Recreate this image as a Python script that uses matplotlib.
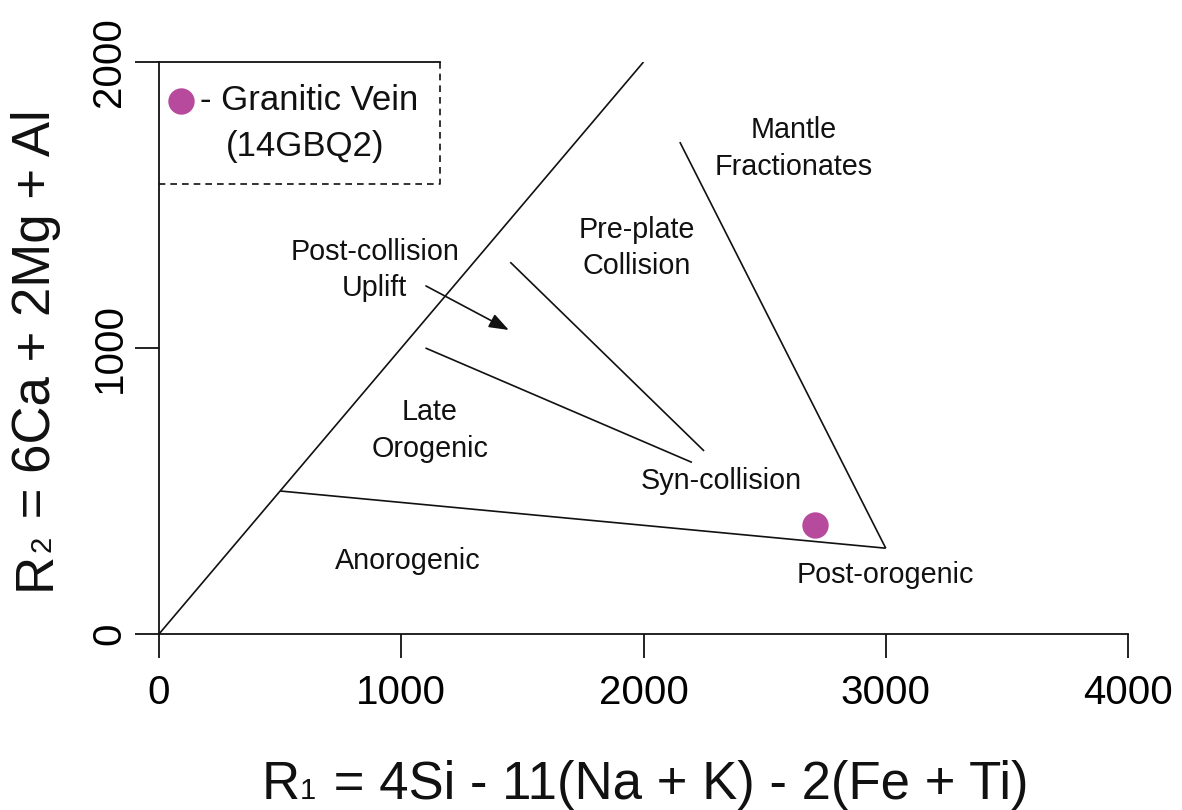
import matplotlib
matplotlib.use("Agg")
import matplotlib.pyplot as plt

plt.rcParams['font.family'] = ['Liberation Sans', 'DejaVu Sans']

# field boundaries of the R1-R2 diagram (x0, y0, x1, y1)
boundary_x0 = [0, 500, 3000, 1450, 1100]
boundary_y0 = [0, 500, 300, 1300, 1000]
boundary_x1 = [2000, 3000, 2150, 2250, 2200]
boundary_y1 = [2000, 300, 1720, 640, 600]

# field names
field_names = ["Mantle\nFractionates", "Pre-plate\nCollision", "Post-collision\nUplift",
               "Late\nOrogenic", "Syn-collision", "Anorogenic", "Post-orogenic"]
field_x = [2620, 1973, 891, 1118, 2319, 1028, 3000]
field_y = [1697, 1350, 1273, 712, 535, 255, 206]

# arrow for post-collision uplift
arrow_from = (1102, 1217)
arrow_to = (1444, 1063)

# sample
sample_r1 = [2707]
sample_r2 = [381]
sample_name = "Granitic Vein"
sample_id = "(14GBQ2)"

xticks = [0, 1000, 2000, 3000, 4000]
yticks = [0, 1000, 2000]

xlabel_parts = [("R", 38), ("1", 21), (" = 4Si - 11(Na + K) - 2(Fe + Ti)", 38)]
ylabel_parts = [("R", 38), ("2", 21), (" = 6Ca + 2Mg + Al", 38)]

color = '#B84A9E'
ink = '#111111'

W, H = 1182, 810
fig = plt.figure(figsize=(W / 100, H / 100), dpi=100)
ax = fig.add_axes([159 / W, 1 - 634 / H, (1128 - 159) / W, (634 - 62) / H])

for x0, y0, x1, y1 in zip(boundary_x0, boundary_y0, boundary_x1, boundary_y1):
    ax.plot([x0, x1], [y0, y1], color=ink, lw=1.2, solid_capstyle='butt')

for name, x, y in zip(field_names, field_x, field_y):
    ax.text(x, y, name, ha='center', va='center', fontsize=20.7, linespacing=1.38, color=ink)

ax.annotate("", xy=arrow_to, xytext=arrow_from,
            arrowprops=dict(arrowstyle='-|>,head_length=0.6,head_width=0.22', color=ink,
                            lw=1.2, mutation_scale=20, shrinkA=0, shrinkB=0))

ax.plot(sample_r1, sample_r2, 'o', color=color, markersize=19, markeredgewidth=0, clip_on=False)

# legend box (top edge solid, right/bottom dashed)
ax.plot([0, 1160], [2000, 2000], color=ink, lw=1.3, clip_on=False)
ax.plot([1160, 1160, 0], [2000, 1573, 1573], color=ink, lw=1.2, ls=(0, (4, 3)), clip_on=False)
ax.plot([91], [1864], 'o', color=color, markersize=19, markeredgewidth=0, clip_on=False)
ax.text(169, 1864, "- " + sample_name, ha='left', va='center', fontsize=25, color=ink)
ax.text(603, 1703, sample_id, ha='center', va='center', fontsize=25, color=ink)

ax.set_xlim(0, 4000)
ax.set_ylim(0, 2000)
ax.set_xticks(xticks)
ax.set_yticks(yticks)
ax.spines['top'].set_visible(False)
ax.spines['right'].set_visible(False)
for s in ['left', 'bottom']:
    ax.spines[s].set_linewidth(1.3)
    ax.spines[s].set_color(ink)
ax.tick_params(direction='out', length=17, width=1.3, color=ink, labelsize=29)
ax.tick_params(axis='x', pad=12)
ax.tick_params(axis='y', pad=5)
for lab in ax.get_yticklabels():
    lab.set_rotation(90)
    lab.set_va('center')


def rich_label(parts, center, base, vertical, gaps=(0, 3)):
    # lay text pieces of different sizes on one baseline (small digit = subscript)
    r = fig.canvas.get_renderer()
    rot = 90 if vertical else 0
    texts, advances = [], []
    for s, size in parts:
        t = fig.text(0, 0, s, fontsize=size, rotation=rot, rotation_mode='anchor',
                     ha='left', va='baseline', color=ink)
        ext = t.get_window_extent(r)
        texts.append(t)
        advances.append(ext.height if vertical else ext.width)
    pos = center - (sum(advances) + sum(gaps)) / 2
    for i, (t, adv) in enumerate(zip(texts, advances)):
        if vertical:
            t.set_position((base / W, pos / H))
        else:
            t.set_position((pos / W, base / H))
        pos += adv + (gaps[i] if i < len(gaps) else 0)


rich_label(xlabel_parts, 645, H - 799, vertical=False)
rich_label(ylabel_parts, H - 350, 50, vertical=True)

fig.savefig("out.png", dpi=100)
